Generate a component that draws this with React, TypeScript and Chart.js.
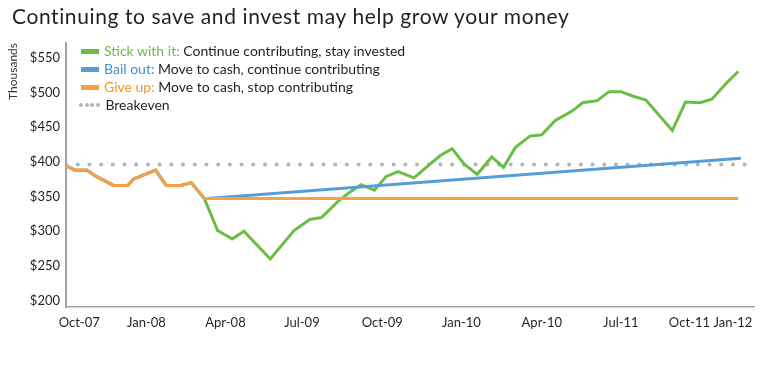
import React, { useEffect, useRef } from "react";
import { Chart, registerables } from "chart.js";

Chart.register(...registerables);

const FONT = "Lato, 'Noto Sans', sans-serif";

// x = months since Oct-07 (approximate positions)
const sharedX = [0, 0.7, 1.6, 2.3, 3.6, 4.7, 5.1, 6.8, 7.6, 8.7, 9.5, 10.5];
const sharedY = [394, 388, 388, 379, 366, 366, 375, 388, 366, 366, 370, 347];

const stickX = [11.5, 12.6, 13.5, 15.5, 17.3, 18.5, 19.4, 20.7, 21.5, 22.4, 23.4, 24.3, 25.2, 26.4, 27.4, 28.4, 29.3, 30.2, 31.2, 32.3, 33.2, 34.1, 35.2, 36.1, 37.1, 38.4, 39.2, 40.3, 41.2, 42.1, 43.1, 44.0, 46.0, 47.0, 48.1, 49.0, 50.1, 51.0];
const stickY = [301, 289, 300, 260, 301, 317, 320, 344, 356, 367, 359, 379, 386, 377, 393, 409, 419, 397, 382, 407, 392, 421, 437, 439, 459, 473, 485, 488, 501, 501, 494, 489, 445, 486, 485, 490, 513, 530];

const bailX = [51.2];
const bailY = [405];

const giveUpX = [51.0];
const giveUpY = [347];

const breakevenX = [0, 52.2];
const breakevenY = [396, 396];

const xTickValues = [1.0, 6.1, 12.1, 17.9, 24.0, 30.0, 36.1, 42.1, 47.3, 50.6];
const xTickLabels = ["Oct-07", "Jan-08", "Apr-08", "Jul-09", "Oct-09", "Jan-10", "Apr-10", "Jul-11", "Oct-11", "Jan-12"];
const yTickValues = [200, 250, 300, 350, 400, 450, 500, 550];

const GREEN = "#6bbd45";
const BLUE = "#559dd6";
const ORANGE = "#f8a047";
const GREY = "#b3b5b8";
const GREEN_TEXT = "#6abd45";
const BLUE_TEXT = "#3b8fd1";
const ORANGE_TEXT = "#f7941d";

const pts = (xs: number[], ys: number[]) => xs.map((x, i) => ({ x, y: ys[i] }));

export default function App() {
  const canvasRef = useRef<HTMLCanvasElement | null>(null);

  useEffect(() => {
    document.body.style.margin = "0";
    const canvas = canvasRef.current;
    if (!canvas) return;
    const shared = pts(sharedX, sharedY);
    const chart = new Chart(canvas, {
      type: "line",
      data: {
        datasets: [
          {
            label: "Give up",
            data: [...shared, ...pts(giveUpX, giveUpY)],
            borderColor: ORANGE,
            borderWidth: 3,
            pointRadius: 0,
            tension: 0,
            fill: false,
          },
          {
            label: "Bail out",
            data: [...shared, ...pts(bailX, bailY)],
            borderColor: BLUE,
            borderWidth: 3,
            pointRadius: 0,
            tension: 0,
            fill: false,
          },
          {
            label: "Stick with it",
            data: [...shared, ...pts(stickX, stickY)],
            borderColor: GREEN,
            borderWidth: 3,
            pointRadius: 0,
            tension: 0,
            fill: false,
          },
          {
            label: "Breakeven",
            data: pts(breakevenX, breakevenY),
            borderColor: GREY,
            borderWidth: 4,
            borderDash: [0.1, 11.6],
            borderCapStyle: "round",
            pointRadius: 0,
            fill: false,
          },
        ],
      },
      options: {
        animation: false,
        responsive: false,
        maintainAspectRatio: false,
        layout: { padding: { top: 43, left: 0, right: 14, bottom: 0 } },
        plugins: {
          legend: { display: false },
          tooltip: { enabled: false },
          title: { display: false },
        },
        scales: {
          x: {
            type: "linear",
            min: 0,
            max: 52.2,
            grid: { display: false, drawTicks: false },
            border: { display: true, color: "#9ea2a7", width: 1.5 },
            afterBuildTicks: (scale: any) => {
              scale.ticks = xTickValues.map((v) => ({ value: v }));
            },
            afterFit: (scale: any) => {
              scale.height = 73;
            },
            ticks: {
              autoSkip: false,
              maxRotation: 0,
              padding: 8,
              color: "#231f20",
              font: { family: FONT, size: 13 },
              callback: (_v: any, i: number) => xTickLabels[i],
            },
          },
          y: {
            type: "linear",
            min: 191,
            max: 571,
            grid: { display: false, drawTicks: false },
            border: { display: true, color: "#9ea2a7", width: 2 },
            afterBuildTicks: (scale: any) => {
              scale.ticks = yTickValues.map((v) => ({ value: v }));
            },
            afterFit: (scale: any) => {
              scale.width = 66;
            },
            title: {
              display: true,
              text: "Thousands",
              align: "end",
              color: "#333333",
              font: { family: FONT, size: 12 },
              padding: { top: 6, bottom: 0 },
            },
            ticks: {
              padding: 6,
              color: "#231f20",
              font: { family: FONT, size: 13 },
              callback: (v: any) => "$" + v,
            },
          },
        },
      },
    });
    return () => chart.destroy();
  }, []);

  const rowStyle: React.CSSProperties = {
    height: 18,
    lineHeight: "18px",
    display: "flex",
    alignItems: "center",
    whiteSpace: "nowrap",
  };
  const swatch = (c: string): React.CSSProperties => ({
    display: "inline-block",
    width: 18,
    height: 5,
    background: c,
    marginRight: 5,
  });
  const dot: React.CSSProperties = {
    display: "inline-block",
    width: 4,
    height: 4,
    borderRadius: 2,
    background: GREY,
    marginRight: 1.6,
  };

  return (
    <div style={{ position: "relative", width: 768, height: 380, fontFamily: FONT, background: "#fff" }}>
      <canvas ref={canvasRef} width={768} height={380} style={{ position: "absolute", left: 0, top: 0, width: 768, height: 380 }} />
      <div style={{ position: "absolute", left: 12, top: 3, fontSize: 21, letterSpacing: "0.6px", lineHeight: "25px", color: "#231f20", whiteSpace: "nowrap" }}>
        Continuing to save and invest may help grow your money
      </div>
      <div style={{ position: "absolute", left: 81, top: 42, fontSize: 14, color: "#231f20" }}>
        <div style={rowStyle}>
          <span style={swatch(GREEN)} />
          <span style={{ color: GREEN_TEXT }}>Stick with it:</span>&nbsp;Continue contributing, stay invested
        </div>
        <div style={rowStyle}>
          <span style={swatch(BLUE)} />
          <span style={{ color: BLUE_TEXT }}>Bail out:</span>&nbsp;Move to cash, continue contributing
        </div>
        <div style={rowStyle}>
          <span style={swatch(ORANGE)} />
          <span style={{ color: ORANGE_TEXT }}>Give up:</span>&nbsp;Move to cash, stop contributing
        </div>
        <div style={rowStyle}>
          <span style={{ display: "inline-flex", marginLeft: -2, marginRight: 5.6 }}>
            <span style={dot} />
            <span style={dot} />
            <span style={dot} />
            <span style={{ ...dot, marginRight: 0 }} />
          </span>
          Breakeven
        </div>
      </div>
    </div>
  );
}
